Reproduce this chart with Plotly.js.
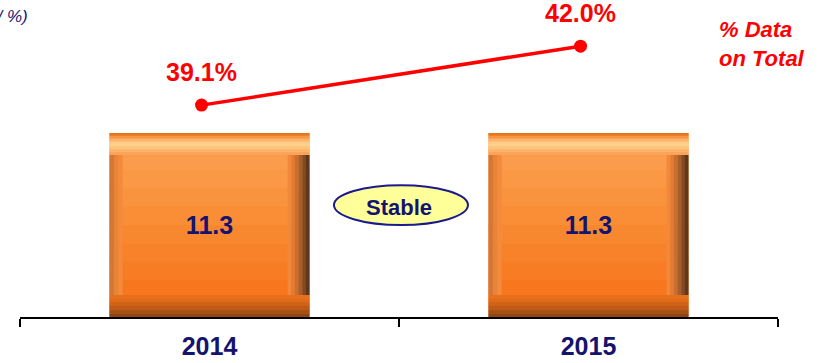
<!DOCTYPE html>
<html><head><meta charset="utf-8">
<script src="https://cdn.plot.ly/plotly-3.0.1.min.js"></script>
<style>html,body{margin:0;padding:0;background:#fff}#chart{width:829px;height:363px}</style>
</head><body><div id="chart"></div>
<script>
// ---- data ----
const years = ['2014', '2015'];
const values = [11.3, 11.3];
const sharePct = [39.1, 42.0];
const badgeText = 'Stable';
const unitText = '(€ bn / %)';
const lineLegend = '% Data<br>on Total';

// ---- style ----
const FONT = 'Liberation Sans, Arial, sans-serif';
const navy = '#14146E';
const red = '#FF0000';
const W = 0.528;            // bar width (category units)
const bevX = 0.058;         // side bevel width (category units)
const bevT = 0.12, bevB = 0.12; // top / bottom bevel as fraction of bar height

const traces = [];
function piece(color, x0, x1, y0, y1) {
  traces.push({
    type: 'bar', x: years,
    y: values.map(v => v * (y1 - y0)),
    base: values.map(v => v * y0),
    width: x1 - x0, offset: -W / 2 + x0,
    marker: {color: color, line: {width: 0}},
    hoverinfo: 'skip', showlegend: false, textposition: 'none',
    xaxis: 'x', yaxis: 'y'
  });
}
function hStrips(colors, x0, x1, y0, y1) { // bottom -> top
  const n = colors.length, h = (y1 - y0) / n;
  colors.forEach((c, i) => piece(c, x0, x1, y0 + i * h, y0 + (i + 1) * h + (i < n - 1 ? h * 0.05 : 0)));
}
function vStrips(colors, x0, x1, y0, y1) { // left -> right
  const n = colors.length, w = (x1 - x0) / n;
  colors.forEach((c, i) => piece(c, x0 + i * w, x0 + (i + 1) * w + (i < n - 1 ? w * 0.05 : 0), y0, y1));
}

// face gradient (bottom -> top)
hStrips(['#F6701A', '#F7761E', '#F77C24', '#F8822A', '#F88830', '#F98E37', '#F9933E', '#FA9845', '#FA9C4B', '#FBA050'],
        0, W, 0, 1);
// left bevel (outer -> inner)
vStrips(['#D47636', '#E88436', '#F38A3C'], 0, bevX * 0.6, bevB, 1 - bevT);
// right bevel (inner -> outer)
vStrips(['#F4883A', '#E27C34', '#C86E30', '#A85E2A', '#824A22', '#5E3818'], W - bevX, W, bevB, 1 - bevT);
// bottom bevel (bottom -> top)
hStrips(['#8E4614', '#A65016', '#BE5A16', '#D06218', '#DE6A1A', '#E8701C'], 0, W, 0, bevB);
// top bevel (bottom -> top)
hStrips(['#FBA35A', '#FCB46C', '#FDC47E', '#FED08A', '#FDCC86', '#FBB46A', '#F59648', '#E8741E'], 0, W, 1 - bevT, 1);

// value labels on bars (transparent carrier)
traces.push({
  type: 'bar', x: years, y: values, width: W,
  marker: {color: 'rgba(0,0,0,0)', line: {width: 0}},
  text: values.map(v => v.toFixed(1)), texttemplate: '%{text}',
  textposition: 'inside', insidetextanchor: 'middle', constraintext: 'none',
  textfont: {family: FONT, size: 25, color: navy, weight: 'bold'},
  hoverinfo: 'skip', showlegend: false, xaxis: 'x', yaxis: 'y'
});

// share line
traces.push({
  type: 'scatter', mode: 'lines+markers', x: years, y: sharePct,
  line: {color: red, width: 3.5},
  marker: {color: red, size: 13},
  xaxis: 'x2', yaxis: 'y2', hoverinfo: 'skip', showlegend: false, cliponaxis: false
});

// percentage labels: x as category index on x-axis
const annotations = sharePct.map((p, i) => ({
  x: years.indexOf(years[i]), y: p, xref: 'x', yref: 'y2', xshift: -8,
  text: p.toFixed(1) + '%', showarrow: false, yshift: 33,
  font: {family: FONT, size: 25, color: red, weight: 'bold'}
}));
annotations.push({
  xref: 'paper', yref: 'paper', x: 0.5, y: 0.344,
  text: badgeText, showarrow: false,
  font: {family: FONT, size: 22, color: navy, weight: 'bold'}
});
annotations.push({
  xref: 'paper', yref: 'paper', x: 0.919, xanchor: 'left', y: 0.86, yanchor: 'middle',
  text: lineLegend, showarrow: false, align: 'left',
  font: {family: FONT, size: 22, color: red, weight: 'bold', style: 'italic'}
});
annotations.push({
  xref: 'paper', yref: 'paper', x: 0.0135, xanchor: 'right', y: 0.947, yanchor: 'middle',
  text: unitText, showarrow: false,
  font: {family: FONT, size: 17, color: navy, style: 'italic'}
});

const layout = {
  width: 829, height: 363,
  margin: {l: 20, r: 51, t: 0, b: 46},
  paper_bgcolor: '#fff', plot_bgcolor: '#fff',
  barmode: 'overlay', showlegend: false,
  xaxis: {
    type: 'category', range: [-0.5, 1.5],
    showline: true, linecolor: '#000', linewidth: 1.5,
    ticks: 'outside', tickson: 'boundaries', ticklen: 8, tickwidth: 1.5, tickcolor: '#000',
    showgrid: false, zeroline: false,
    tickfont: {family: FONT, size: 25, color: navy, weight: 'bold'},
    ticklabelstandoff: 6
  },
  xaxis2: {type: 'category', overlaying: 'x', range: [-0.479, 1.521], visible: false, showgrid: false},
  yaxis: {range: [0, 19.47], visible: false, showgrid: false, zeroline: false},
  yaxis2: {range: [28.68, 44.27], overlaying: 'y', visible: false, showgrid: false, zeroline: false},
  shapes: [{
    type: 'circle', xref: 'paper', yref: 'paper', layer: 'above',
    x0: 0.4142, x1: 0.5910, y0: 0.290, y1: 0.416,
    fillcolor: '#FFFF99', line: {color: '#1A1A8C', width: 2}
  }],
  annotations: annotations
};

Plotly.newPlot('chart', traces, layout, {displayModeBar: false, staticPlot: true});
</script></body></html>
